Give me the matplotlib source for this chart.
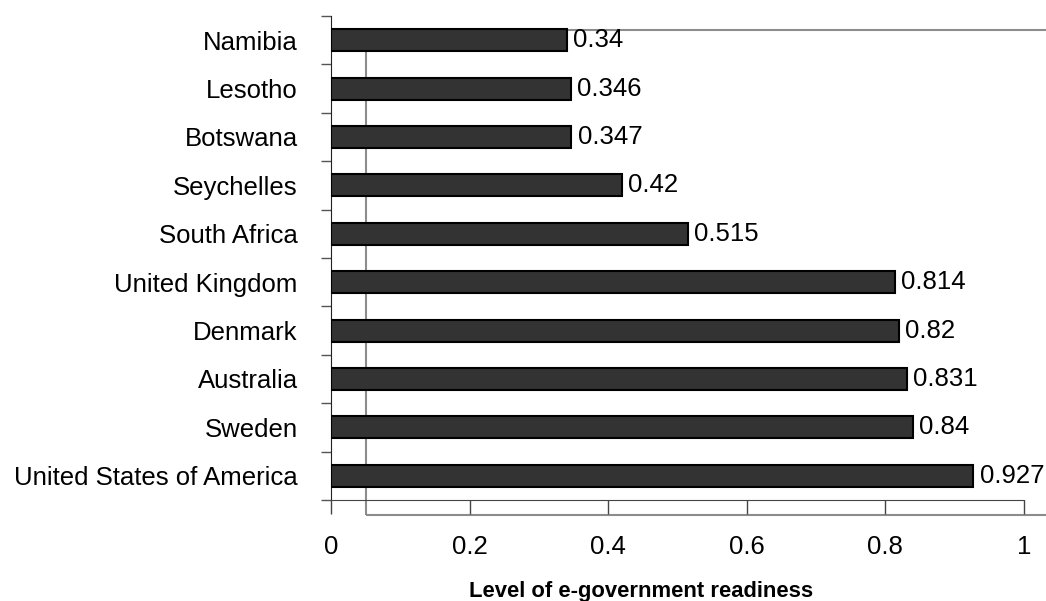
import matplotlib
matplotlib.use("Agg")
import matplotlib.pyplot as plt
from matplotlib.patches import Rectangle
from matplotlib.ticker import FixedLocator
import numpy as np

plt.rcParams['font.family'] = ['Liberation Sans', 'DejaVu Sans']

countries = ["Namibia", "Lesotho", "Botswana", "Seychelles", "South Africa",
             "United Kingdom", "Denmark", "Australia", "Sweden",
             "United States of America"]
readiness = [0.34, 0.346, 0.347, 0.42, 0.515, 0.814, 0.82, 0.831, 0.84, 0.927]
value_labels = ["0.34", "0.346", "0.347", "0.42", "0.515",
                "0.814", "0.82", "0.831", "0.84", "0.927"]
x_ticks = [0, 0.2, 0.4, 0.6, 0.8, 1]
x_tick_labels = ["0", "0.2", "0.4", "0.6", "0.8", "1"]

fs = 18.5

fig = plt.figure(figsize=(10.46, 6.01), dpi=100)
ax = fig.add_axes([0.3164, 0.1681, 0.6625, 0.8053])

y = np.arange(len(countries))
ax.barh(y, readiness, height=0.4545, color="#333333", edgecolor="black",
        linewidth=1.5, zorder=3)
for yi, v, lab in zip(y, readiness, value_labels):
    ax.text(v + 0.009, yi, lab, va="center", ha="left", fontsize=fs, zorder=4)

ax.set_xlim(0, 1)
ax.set_ylim(len(countries) - 0.5, -0.5)

# offset plot-area frame sitting behind the bars
frame = Rectangle((0.0505, -0.031), 1.5, 1.002, transform=ax.transAxes,
                  fill=False, edgecolor="#8c8c8c", linewidth=1.5,
                  clip_on=False, zorder=1)
ax.add_patch(frame)

ax.set_yticks(y)
ax.set_yticklabels(countries, fontsize=fs)
ax.yaxis.set_minor_locator(FixedLocator(np.arange(-0.5, len(countries), 1)))
ax.tick_params(axis="y", which="major", length=0, pad=24)
ax.tick_params(axis="y", which="minor", length=7, width=1, color="#555555",
               direction="out")

ax.set_xticks(x_ticks)
ax.set_xticklabels(x_tick_labels, fontsize=fs)
ax.tick_params(axis="x", length=10, width=1, direction="out", pad=15,
               color="#444444")

for side in ["top", "right"]:
    ax.spines[side].set_visible(False)
ax.spines["left"].set_color("#222222")
ax.spines["bottom"].set_color("#444444")

fig.text(0.613, 0.0067, "Level of e-government readiness", ha="center",
         va="baseline", fontsize=15.8, fontweight="bold")

fig.savefig("out.png", dpi=100)
